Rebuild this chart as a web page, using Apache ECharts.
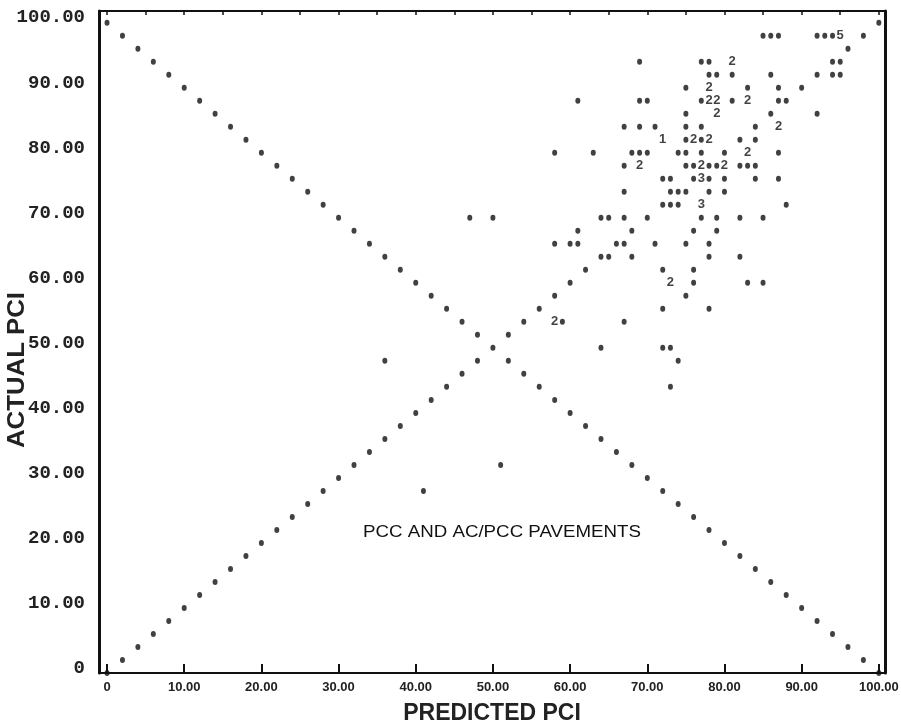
<!DOCTYPE html>
<html>
<head>
<meta charset="utf-8">
<script src="https://cdn.jsdelivr.net/npm/echarts/dist/echarts.min.js"></script>
<style>
  html, body { margin: 0; padding: 0; background: #fff; }
  #chart { width: 901px; height: 725px; }
</style>
</head>
<body>
<div id="chart"></div>
<script>
// tick values and labels
var xTicks = [0, 10, 20, 30, 40, 50, 60, 70, 80, 90, 100];
var xTickLabels = ['0', '10.00', '20.00', '30.00', '40.00', '50.00', '60.00', '70.00', '80.00', '90.00', '100.00'];
var yTicks = [0, 10, 20, 30, 40, 50, 60, 70, 80, 90, 100];
var yTickLabels = ['0', '10.00', '20.00', '30.00', '40.00', '50.00', '60.00', '70.00', '80.00', '90.00', '100.00'];
var topTicks = [0, 5, 10, 15, 20, 25, 30, 35, 40, 45, 50, 55, 60, 65, 70, 75, 80, 85, 90, 95, 100];

// reference diagonals as plotted (every 2 units)
var diagUp = [[0,0],[2,2],[4,4],[6,6],[8,8],[10,10],[12,12],[14,14],[16,16],[18,18],[20,20],
  [22,22],[24,24],[26,26],[28,28],[30,30],[32,32],[34,34],[36,36],[38,38],[40,40],
  [42,42],[44,44],[46,46],[48,48],[50,50],[52,52],[54,54],[56,56],[58,58],[60,60],
  [62,62],[64,64],[66,66],[68,68],[70,70],[72,72],[74,74],[76,76],[78,78],[80,80],
  [82,82],[84,84],[86,86],[88,88],[90,90],[92,92],[94,94],[96,96],[98,98],[100,100]];
var diagDown = [[0,100],[2,98],[4,96],[6,94],[8,92],[10,90],[12,88],[14,86],[16,84],[18,82],[20,80],
  [22,78],[24,76],[26,74],[28,72],[30,70],[32,68],[34,66],[36,64],[38,62],[40,60],
  [42,58],[44,56],[46,54],[48,52],[52,48],[54,46],[56,44],[58,42],[60,40],
  [62,38],[64,36],[66,34],[68,32],[70,30],[72,28],[74,26],[76,24],[78,22],[80,20],
  [82,18],[84,16],[86,14],[88,12],[90,10],[92,8],[94,6],[96,4],[98,2],[100,0]];

// single observations [predicted, actual]
var singlePts = [
  [85,98],[86,98],[87,98],[92,98],[93,98],[94,98],
  [69,94],[77,94],[78,94],[95,94],
  [78,92],[79,92],[81,92],[86,92],[94,92],[95,92],
  [75,90],[83,90],[87,90],
  [61,88],[69,88],[70,88],[77,88],[81,88],[87,88],
  [75,86],[92,86],
  [67,84],[69,84],[71,84],[75,84],[77,84],
  [75,82],[77,82],[84,82],
  [58,80],[63,80],[68,80],[69,80],[70,80],[74,80],[75,80],[77,80],[87,80],
  [67,78],[75,78],[76,78],[79,78],[82,78],[83,78],[84,78],
  [72,76],[73,76],[78,76],[80,76],[84,76],[87,76],
  [67,74],[73,74],[75,74],[78,74],[80,74],
  [73,72],[74,72],[88,72],
  [47,70],[50,70],[64,70],[65,70],[67,70],[77,70],[79,70],[82,70],[85,70],
  [61,68],[76,68],[79,68],
  [58,66],[60,66],[61,66],[67,66],[71,66],[75,66],[78,66],
  [65,64],[68,64],[78,64],[82,64],
  [72,62],[76,62],
  [76,60],[83,60],[85,60],
  [75,58],
  [72,56],[78,56],
  [59,54],[67,54],
  [64,50],[72,50],[73,50],
  [36,48],[74,48],
  [73,44],
  [51,32],
  [41,28]
];

// overlapping observations [predicted, actual, printed count]
var multiPts = [
  [95,98,'5'],[81,94,'2'],[78,90,'2'],[78,88,'2'],[79,88,'2'],[83,88,'2'],
  [79,86,'2'],[87,84,'2'],[72,82,'1'],[76,82,'2'],[78,82,'2'],[83,80,'2'],
  [69,78,'2'],[77,78,'2'],[80,78,'2'],[77,76,'3'],[77,72,'3'],[73,60,'2'],[58,54,'2']
];

var chart = echarts.init(document.getElementById('chart'));

var dotStyle = { color: '#111' };
var option = {
  backgroundColor: '#fff',
  animation: false,
  grid: { left: 99, right: 16, top: 11, bottom: 52, containLabel: false, outerBoundsMode: 'none' },
  xAxis: [{
    type: 'value', min: -1.04, max: 100.8,
    splitLine: { show: false },
    axisLine: { onZero: false, lineStyle: { color: '#111', width: 2 } },
    axisTick: { show: true, inside: true, length: 9, customValues: xTicks, lineStyle: { color: '#111', width: 2 } },
    axisLabel: {
      customValues: xTicks, margin: 8, color: '#222', fontSize: 13,
      fontFamily: 'Liberation Sans', fontWeight: 'bold',
      formatter: function (v) { return xTickLabels[xTicks.indexOf(v)]; }
    },
    name: 'PREDICTED PCI', nameLocation: 'middle', nameGap: 29,
    nameTextStyle: { color: '#222', fontSize: 23, fontWeight: 'bold', fontFamily: 'Liberation Sans' }
  }, {
    type: 'value', position: 'top', min: -1.04, max: 100.8,
    splitLine: { show: false },
    axisLine: { onZero: false, lineStyle: { color: '#111', width: 2 } },
    axisTick: { show: true, inside: true, length: 4, customValues: topTicks, lineStyle: { color: '#111', width: 1.5 } },
    axisLabel: { show: false }
  }],
  yAxis: [{
    type: 'value', min: 0, max: 101.8,
    splitLine: { show: false },
    axisLine: { onZero: false, lineStyle: { color: '#111', width: 3 } },
    axisTick: { show: false },
    axisLabel: {
      customValues: yTicks, margin: 14, color: '#222', fontSize: 19,
      fontFamily: 'Liberation Mono', fontWeight: 'bold',
      verticalAlign: 'bottom', lineHeight: 10,
      formatter: function (v) { return yTickLabels[yTicks.indexOf(v)]; }
    }
  }, {
    type: 'value', position: 'right', min: 0, max: 101.8,
    splitLine: { show: false },
    axisLine: { onZero: false, lineStyle: { color: '#111', width: 3 } },
    axisTick: { show: false },
    axisLabel: { show: false }
  }],
  graphic: [{
    type: 'text', x: 18, y: 370, rotation: Math.PI / 2, scaleX: 1.12,
    style: { text: 'ACTUAL PCI', textAlign: 'center', textVerticalAlign: 'middle',
      fill: '#222', font: 'bold 23px "Liberation Sans"' }
  }, {
    type: 'text', x: 502, y: 533, scaleX: 1.17,
    style: { text: 'PCC AND AC/PCC PAVEMENTS', textAlign: 'center', textVerticalAlign: 'middle',
      fill: '#111', font: '16px "Liberation Sans"' }
  }],
  series: [{
    type: 'scatter', data: diagUp, symbol: 'circle', symbolSize: [5, 6], itemStyle: dotStyle, silent: true
  }, {
    type: 'scatter', data: diagDown, symbol: 'circle', symbolSize: [5, 6], itemStyle: dotStyle, silent: true
  }, {
    type: 'scatter', data: singlePts, symbol: 'circle', symbolSize: [5, 6], itemStyle: dotStyle, silent: true
  }, {
    type: 'scatter', data: multiPts, symbolSize: 0, silent: true,
    label: {
      show: true, position: 'inside', color: '#111', fontSize: 13, fontWeight: 'bold',
      fontFamily: 'Liberation Sans',
      formatter: function (p) { return p.value[2]; }
    }
  }]
};
chart.setOption(option);
</script>
</body>
</html>
